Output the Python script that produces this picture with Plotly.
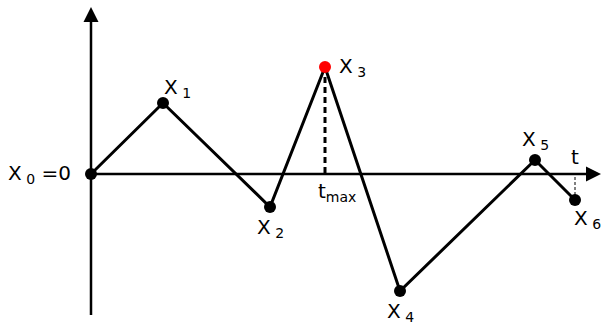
import plotly.graph_objects as go

# random walk sample: time steps and positions
t_vals = [0, 72, 179, 234, 309, 444, 484]
x_vals = [0, 71, -33, 107, -117, 14, -26]
point_labels = ["X<sub> 0</sub> =0", "X<sub> 1</sub>", "X<sub> 2</sub>", "X<sub> 3</sub>",
                "X<sub> 4</sub>", "X<sub> 5</sub>", "X<sub> 6</sub>"]
i_max = 3  # index of the maximum

font = dict(family="DejaVu Sans", size=20, color="black")

fig = go.Figure()

# dashed drop line from the maximum to the time axis
fig.add_trace(go.Scatter(x=[t_vals[i_max], t_vals[i_max]], y=[x_vals[i_max], 0], mode="lines",
                         line=dict(color="black", width=3, dash="6px,4px"), hoverinfo="skip"))
# thin dotted line at the final time
fig.add_trace(go.Scatter(x=[t_vals[-1], t_vals[-1]], y=[x_vals[-1], 0], mode="lines",
                         line=dict(color="black", width=1, dash="3px,2px"), hoverinfo="skip"))

# path
fig.add_trace(go.Scatter(x=t_vals, y=x_vals, mode="lines+markers",
                         line=dict(color="black", width=3),
                         marker=dict(size=12, color=["red" if i == i_max else "black"
                                                     for i in range(len(t_vals))]),
                         hoverinfo="skip"))

# axes with arrows
fig.add_annotation(x=t_vals[0], y=167, ax=t_vals[0], ay=-151, xref="x", yref="y",
                   axref="x", ayref="y", showarrow=True, arrowhead=2, arrowsize=1.2,
                   arrowwidth=2.5, arrowcolor="black", text=" ")
fig.add_annotation(x=510, y=0, ax=t_vals[0], ay=0, xref="x", yref="y",
                   axref="x", ayref="y", showarrow=True, arrowhead=2, arrowsize=1.2,
                   arrowwidth=2.5, arrowcolor="black", text=" ")

# point labels (offsets in pixels)
offsets = [(-18, 0, "right"), (14, 15, "center"), (0, -21, "center"), (27, 0, "center"),
           (0, -21, "center"), (0, 20, "center"), (12, -19, "center")]
for t, x, lab, (dx, dy, anc) in zip(t_vals, x_vals, point_labels, offsets):
    fig.add_annotation(x=t, y=x, text=lab, showarrow=False, xanchor=anc,
                       xshift=dx, yshift=dy, font=font)

fig.add_annotation(x=t_vals[-1], y=0, text="t", showarrow=False, yshift=17, font=font)
fig.add_annotation(x=t_vals[i_max], y=0, text="t<sub>max</sub>", showarrow=False,
                   xanchor="left", xshift=-9, yshift=-18, font=font)

fig.update_layout(width=602, height=327, margin=dict(l=0, r=0, t=0, b=0),
                  plot_bgcolor="white", paper_bgcolor="white", showlegend=False,
                  xaxis=dict(range=[-91, 511], visible=False),
                  yaxis=dict(range=[-153, 174], visible=False))

# drop the default 8px page margin so the figure fills the window
fig.write_html("out.html", config={"displayModeBar": False},
               post_script="document.body.style.margin = '0';")
